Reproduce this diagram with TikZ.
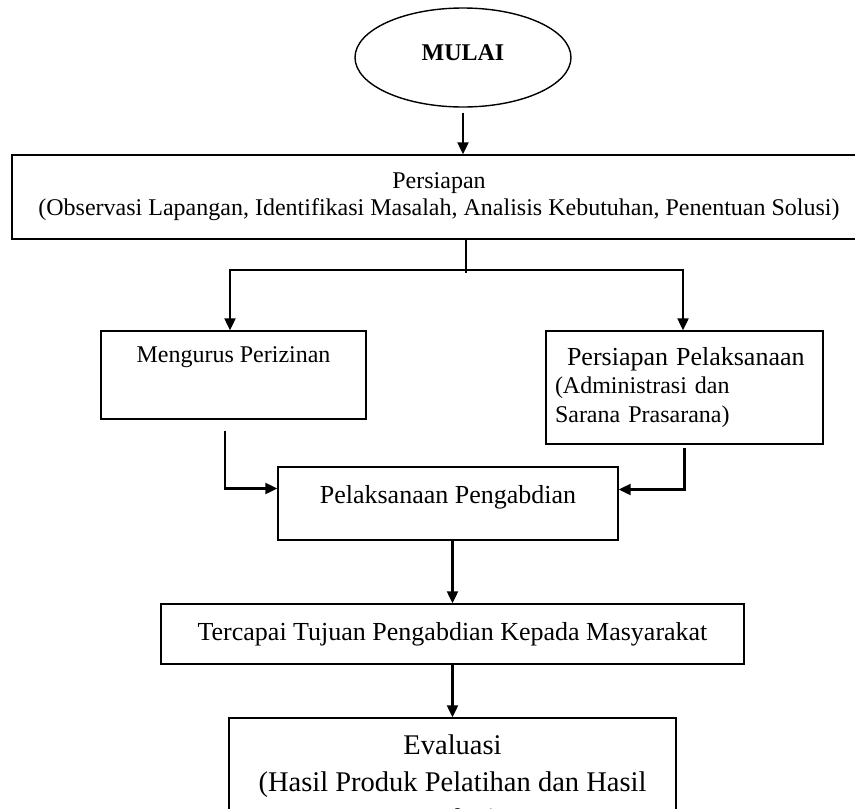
\documentclass[tikz,border=0pt]{standalone}
\usepackage{fontspec}
\setmainfont{Liberation Serif}
\usetikzlibrary{calc,arrows.meta,shapes.geometric}

\begin{document}
\begin{tikzpicture}[x=1pt, y=-1pt, >={Triangle[length=12pt,width=11pt]},
    box/.style={draw, line width=1.4pt, inner sep=0pt, align=center},
    flow/.style={->, line width=2.2pt},
    link/.style={line width=1.1pt}]
    \useasboundingbox (0,0) rectangle (855,809);
    \clip (0,0) rectangle (855,809);

    % Start
    \node[draw, ellipse, line width=1.4pt, minimum width=216pt, minimum height=99pt, inner sep=0pt] (mulai) at (463,57.5)
        {\raisebox{9pt}{\fontsize{24}{28}\selectfont\bfseries MULAI}};

    % Boxes
    \node[box, minimum width=854pt, minimum height=84pt, font=\fontsize{24}{27}\selectfont] (persiapan) at (439,197)
        {Persiapan\\(Observasi Lapangan, Identifikasi Masalah, Analisis Kebutuhan, Penentuan Solusi)};
    \node[box, minimum width=265pt, text height=31pt, text depth=57pt, font=\fontsize{24}{28}\selectfont] (mengurus) at (233.5,375)
        {Mengurus Perizinan};
    \node[box, minimum width=277pt, minimum height=113pt, text width=259pt, align=left, inner xsep=9pt,
        font=\fontsize{24}{28.5}\selectfont] (prep) at (684.5,387.5)
        {\hspace*{12pt}{\fontsize{26}{28.5}\selectfont Persiapan Pelaksanaan}\\(Administrasi dan\\Sarana Prasarana)};
    \node[box, minimum width=340pt, text height=36pt, text depth=37pt, font=\fontsize{26}{30}\selectfont] (pelaksanaan) at (448,503.5)
        {Pelaksanaan Pengabdian};
    \node[box, minimum width=583pt, minimum height=60pt, font=\fontsize{26}{30}\selectfont] (tercapai) at (452.5,634)
        {Tercapai Tujuan Pengabdian Kepada Masyarakat};
    \node[box, minimum width=447pt, minimum height=133pt, font=\fontsize{28.5}{37}\selectfont] (evaluasi) at (452.5,784.5)
        {Evaluasi\\(Hasil Produk Pelatihan dan Hasil\\Angket)};

    % Connectors
    \draw[flow] ([yshift=-5pt]mulai.south) -- (mulai.south |- persiapan.north);
    \coordinate (split) at (466,270);
    \draw[link] (split |- persiapan.south) -- ([yshift=-3pt]split);
    \draw[flow] (split) -| ([xshift=-3.5pt]mengurus.north);
    \draw[flow] (split) -| ([xshift=-1.5pt]prep.north);
    \draw[flow] ([xshift=-8.5pt,yshift=-11pt]mengurus.south) |- ([yshift=15pt]pelaksanaan.west);
    \draw[flow] ([yshift=-3pt]prep.south) |- ([yshift=14pt]pelaksanaan.east);
    \draw[flow] (pelaksanaan.south -| tercapai.north) -- (tercapai.north);
    \draw[flow] (tercapai.south) -- (evaluasi.north);
\end{tikzpicture}
\end{document}
